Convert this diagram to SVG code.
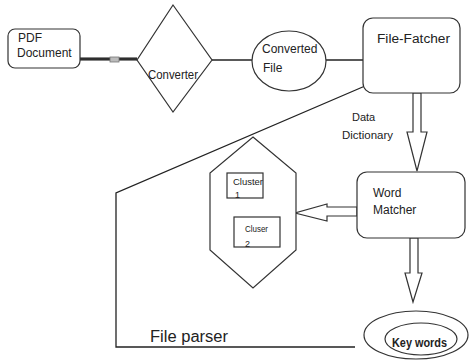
<svg xmlns="http://www.w3.org/2000/svg" width="469" height="360" viewBox="0 0 469 360">
<style>
  .shape{fill:#fff;stroke:#333;stroke-width:1.2}
  .line{fill:none;stroke:#222;stroke-width:1.3}
  .arrow{fill:#fff;stroke:#333;stroke-width:1.2;stroke-linejoin:miter}
  text{font-family:"Liberation Sans",Arial,sans-serif;fill:#222}
  .t12{font-size:12px}
  .t11{font-size:11px}
  .t9{font-size:9px}
</style>
<rect width="469" height="360" fill="#fff"/>

<g id="connectors">
  <line x1="80" y1="59" x2="137" y2="59" stroke="#111" stroke-width="3"/>
  <line x1="80" y1="59" x2="137" y2="59" stroke="#777" stroke-width="0.6"/>
  <rect x="110" y="57" width="9" height="5" fill="#bbb" stroke="#777" stroke-width="0.8"/>
  <line class="line" x1="212" y1="60" x2="252" y2="60"/>
  <line class="line" x1="326" y1="60" x2="363" y2="60"/>
  <polyline class="line" stroke-width="1.5" points="365,86 116,193 116,347 355,347"/>
  <polygon class="arrow" points="413,93 413,132 407,132 417,171 427,132 421,132 421,93"/>
  <polygon class="arrow" points="357,207 327,207 327,204 295,213 327,221 327,216 357,216"/>
  <polygon class="arrow" points="410,238 410,273 405,273 413,302 422,273 418,273 418,238"/>
</g>

<g id="pdf-document">
  <rect class="shape" x="8" y="29" width="72" height="39" rx="7"/>
  <text class="t12" x="18" y="42">PDF</text>
  <text class="t12" x="17" y="57">Document</text>
</g>

<g id="converter">
  <polygon class="shape" points="173,5 212,60 173,112 137,60"/>
  <text class="t12" x="148" y="79" textLength="50" lengthAdjust="spacingAndGlyphs">Converter</text>
</g>

<g id="converted-file">
  <ellipse class="shape" cx="289" cy="61" rx="37" ry="30"/>
  <text class="t12" x="262" y="53">Converted</text>
  <text class="t12" x="263" y="72">File</text>
</g>

<g id="file-fatcher">
  <rect class="shape" x="363" y="18" width="97" height="75" rx="10"/>
  <text class="t12" x="377" y="43" font-size="13" textLength="73" lengthAdjust="spacingAndGlyphs">File-Fatcher</text>
</g>

<g id="data-dictionary">
  <text class="t11" x="352" y="121">Data</text>
  <text class="t11" x="342" y="139" textLength="51" lengthAdjust="spacingAndGlyphs">Dictionary</text>
</g>

<g id="cluster-group">
  <polygon class="shape" points="253,137 296,173 296,250 253,288 210,250 210,173"/>
  <rect class="shape" x="227" y="173" width="36" height="25"/>
  <text class="t9" x="233" y="185" textLength="30" lengthAdjust="spacingAndGlyphs">Cluster</text>
  <text class="t9" x="235" y="198">1</text>
  <rect class="shape" x="234" y="217" width="46" height="30"/>
  <text class="t9" x="245" y="232" textLength="23" lengthAdjust="spacingAndGlyphs">Cluser</text>
  <text class="t9" x="245" y="247">2</text>
</g>

<g id="word-matcher">
  <rect class="shape" x="357" y="172" width="108" height="66" rx="10"/>
  <text class="t12" x="373" y="197">Word</text>
  <text class="t12" x="373" y="214">Matcher</text>
</g>

<g id="file-parser">
  <text x="150" y="342" font-size="16" textLength="78" lengthAdjust="spacingAndGlyphs">File parser</text>
</g>

<g id="key-words">
  <ellipse class="shape" cx="416" cy="335" rx="52" ry="24"/>
  <ellipse class="shape" cx="421" cy="339" rx="36" ry="16"/>
  <text x="392" y="347" font-size="12" font-weight="bold" textLength="55" lengthAdjust="spacingAndGlyphs">Key words</text>
</g>
</svg>
